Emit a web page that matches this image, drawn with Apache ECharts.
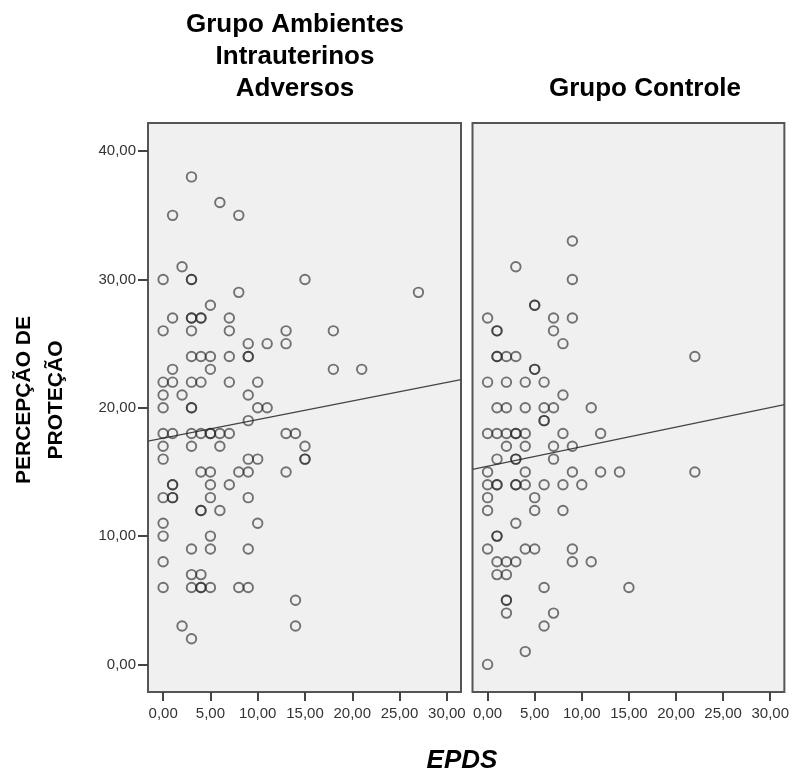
<!DOCTYPE html>
<html>
<head>
<meta charset="utf-8">
<title>EPDS x Percepção de Proteção</title>
<script src="https://cdn.jsdelivr.net/npm/echarts@6.0.0/dist/echarts.min.js"></script>
<style>
    html, body { margin: 0; padding: 0; background: #fff; }
    #chart { width: 792px; height: 776px; }
</style>
</head>
<body>
<div id="chart"></div>
<script>
// pontos [EPDS, percepção de proteção] (repetidos = círculos mais escuros)
var grupoAdversos = [
    [3, 38], [6, 36], [1, 35], [8, 35], [2, 31],
    [0, 30], [3, 30], [3, 30], [15, 30], [8, 29], [27, 29], [5, 28],
    [1, 27], [3, 27], [3, 27], [4, 27], [4, 27], [7, 27],
    [0, 26], [3, 26], [7, 26], [13, 26], [18, 26],
    [9, 25], [11, 25], [13, 25],
    [3, 24], [4, 24], [5, 24], [7, 24], [9, 24], [9, 24],
    [1, 23], [5, 23], [18, 23], [21, 23],
    [0, 22], [1, 22], [3, 22], [4, 22], [7, 22], [10, 22],
    [0, 21], [2, 21], [9, 21],
    [0, 20], [3, 20], [3, 20], [10, 20], [11, 20], [9, 19],
    [0, 18], [1, 18], [3, 18], [4, 18], [5, 18], [5, 18], [6, 18], [7, 18], [13, 18], [14, 18],
    [0, 17], [3, 17], [6, 17], [15, 17],
    [0, 16], [9, 16], [10, 16], [15, 16], [15, 16],
    [4, 15], [5, 15], [8, 15], [9, 15], [13, 15],
    [1, 14], [1, 14], [5, 14], [7, 14],
    [0, 13], [1, 13], [1, 13], [5, 13], [9, 13],
    [4, 12], [4, 12], [6, 12], [0, 11], [10, 11], [0, 10], [5, 10],
    [3, 9], [5, 9], [9, 9], [0, 8], [3, 7], [4, 7],
    [0, 6], [3, 6], [4, 6], [4, 6], [5, 6], [8, 6], [9, 6],
    [14, 5], [2, 3], [14, 3], [3, 2]
];
var grupoControle = [
    [9, 33], [3, 31], [9, 30], [5, 28], [5, 28],
    [0, 27], [7, 27], [9, 27], [1, 26], [1, 26], [7, 26], [8, 25],
    [1, 24], [1, 24], [2, 24], [3, 24], [22, 24], [5, 23], [5, 23],
    [0, 22], [2, 22], [4, 22], [6, 22], [8, 21],
    [1, 20], [2, 20], [4, 20], [6, 20], [7, 20], [11, 20], [6, 19], [6, 19],
    [0, 18], [1, 18], [2, 18], [3, 18], [3, 18], [4, 18], [8, 18], [12, 18],
    [2, 17], [4, 17], [7, 17], [9, 17],
    [1, 16], [3, 16], [3, 16], [7, 16],
    [0, 15], [4, 15], [9, 15], [12, 15], [14, 15], [22, 15],
    [0, 14], [1, 14], [1, 14], [3, 14], [3, 14], [4, 14], [6, 14], [8, 14], [10, 14],
    [0, 13], [5, 13], [0, 12], [5, 12], [8, 12], [3, 11], [1, 10], [1, 10],
    [0, 9], [4, 9], [5, 9], [9, 9],
    [1, 8], [2, 8], [3, 8], [9, 8], [11, 8], [1, 7], [2, 7],
    [6, 6], [15, 6], [2, 5], [2, 5], [2, 4], [7, 4], [6, 3], [4, 1], [0, 0]
];
var ajusteAdversos = [[-1.6, 17.4], [31.5, 22.2]];
var ajusteControle = [[-1.6, 15.2], [31.5, 20.25]];

var xTicks = [0, 5, 10, 15, 20, 25, 30];
var yTicks = [0, 10, 20, 30, 40];

var fmt = function (v) {
    return Number(v).toFixed(2).replace('.', ',');
};
var tickFont = {
    color: '#333',
    fontFamily: 'Liberation Sans',
    fontSize: 15
};

var chartDom = document.getElementById('chart');
var myChart = echarts.init(chartDom, null, {renderer: 'canvas'});

function xAxisFor(idx) {
    return {
        type: 'value',
        gridIndex: idx,
        min: -1.6,
        max: 31.5,
        axisLine: {show: false, onZero: false},
        splitLine: {show: false},
        axisTick: {
            show: true,
            length: 9,
            customValues: xTicks,
            lineStyle: {color: '#444', width: 2}
        },
        axisLabel: Object.assign({
            margin: 14,
            customValues: xTicks,
            formatter: fmt
        }, tickFont)
    };
}

function scatterFor(idx, data) {
    return {
        type: 'scatter',
        xAxisIndex: idx,
        yAxisIndex: idx,
        symbol: 'circle',
        symbolSize: 9.5,
        data: data,
        itemStyle: {
            color: 'rgba(0,0,0,0)',
            borderColor: 'rgba(40,40,40,0.8)',
            borderWidth: 1.9
        },
        z: 3
    };
}

function fitFor(idx, data) {
    return {
        type: 'line',
        xAxisIndex: idx,
        yAxisIndex: idx,
        data: data,
        symbol: 'none',
        lineStyle: {color: '#444', width: 1.2},
        z: 2
    };
}

var gridStyle = {
    show: true,
    backgroundColor: '#f0f0f0',
    borderColor: '#555',
    borderWidth: 2
};

var option = {
    animation: false,
    backgroundColor: '#ffffff',
    grid: [
        Object.assign({left: 148, top: 123, width: 313, height: 569}, gridStyle),
        Object.assign({left: 472.5, top: 123, width: 312, height: 569}, gridStyle)
    ],
    xAxis: [xAxisFor(0), xAxisFor(1)],
    yAxis: [
        {
            type: 'value',
            gridIndex: 0,
            min: -2.15,
            max: 42.2,
            axisLine: {show: false, onZero: false},
            splitLine: {show: false},
            axisTick: {
                show: true,
                length: 10,
                customValues: yTicks,
                lineStyle: {color: '#444', width: 2}
            },
            axisLabel: Object.assign({
                margin: 12,
                customValues: yTicks,
                formatter: fmt
            }, tickFont)
        },
        {
            type: 'value',
            gridIndex: 1,
            min: -2.15,
            max: 42.2,
            axisLine: {show: false, onZero: false},
            splitLine: {show: false},
            axisTick: {show: false},
            axisLabel: {show: false}
        }
    ],
    series: [
        fitFor(0, ajusteAdversos),
        scatterFor(0, grupoAdversos),
        fitFor(1, ajusteControle),
        scatterFor(1, grupoControle)
    ],
    graphic: [
        {
            type: 'text',
            x: 295,
            y: 57,
            style: {
                text: 'Grupo Ambientes\nIntrauterinos\nAdversos',
                fill: '#000',
                font: 'bold 26px "Liberation Sans", Arial, sans-serif',
                lineHeight: 32,
                align: 'center',
                verticalAlign: 'middle'
            }
        },
        {
            type: 'text',
            x: 645,
            y: 89,
            style: {
                text: 'Grupo Controle',
                fill: '#000',
                font: 'bold 26px "Liberation Sans", Arial, sans-serif',
                align: 'center',
                verticalAlign: 'middle'
            }
        },
        {
            type: 'text',
            x: 40,
            y: 400,
            rotation: Math.PI / 2,
            style: {
                text: 'PERCEPÇÃO DE\nPROTEÇÃO',
                fill: '#000',
                font: 'bold 21px "Liberation Sans", Arial, sans-serif',
                lineHeight: 32,
                align: 'center',
                verticalAlign: 'middle'
            }
        },
        {
            type: 'text',
            x: 462,
            y: 761,
            style: {
                text: 'EPDS',
                fill: '#000',
                font: 'italic bold 26px "Liberation Sans", Arial, sans-serif',
                align: 'center',
                verticalAlign: 'middle'
            }
        }
    ]
};
myChart.setOption(option);
</script>
</body>
</html>
